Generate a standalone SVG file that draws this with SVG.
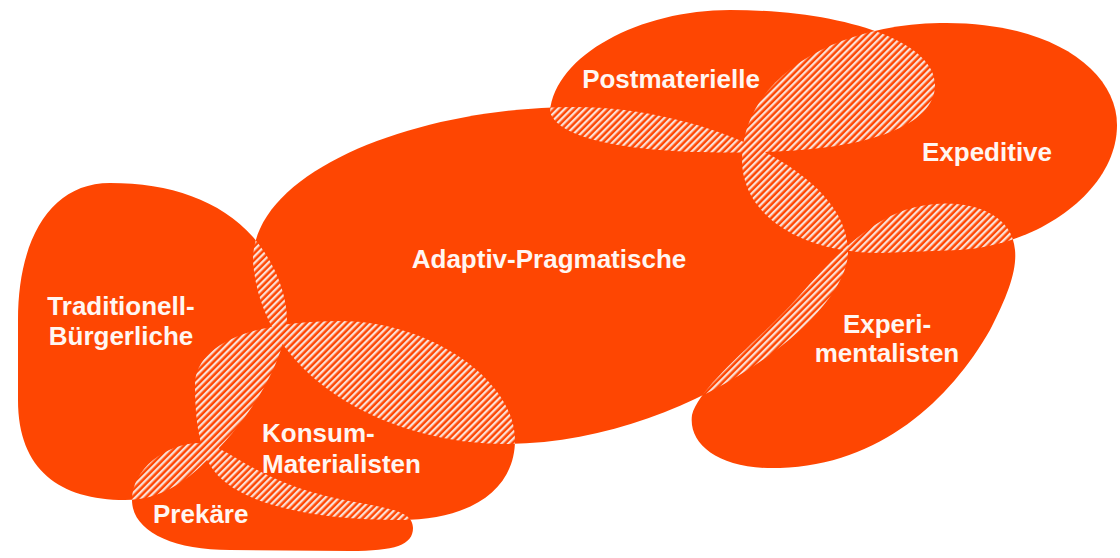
<svg xmlns="http://www.w3.org/2000/svg" width="1120" height="558" viewBox="0 0 1120 558">
<style>
.m{fill:#fe4602}
.h{fill:url(#hatch)}
text{font-family:"Liberation Sans",Arial,sans-serif;font-weight:bold;font-size:26px;fill:#fff6f2}
</style>
<defs>
<pattern id="hatch" patternUnits="userSpaceOnUse" width="4.8" height="4.8" patternTransform="rotate(45)">
<rect width="4.8" height="4.8" fill="#fe4602"/>
<rect width="2.3" height="4.8" fill="#fbe0d6"/>
</pattern>
<path id="sA" d="M253,262 C251,170 420,107 575,107 C700,107 848,170 848,252 C848,320 680,444 505,444 C390,444 262,380 253,262 Z"/>
<path id="sT" d="M110,183 C170,183 220,200 253,237 C280,268 292,310 285,335 C275,380 240,430 205,462 C185,482 160,500 125,500 C60,500 18,470 18,400 L18,320 C18,240 50,183 110,183 Z"/>
<path id="sK" d="M195,385 C195,345 250,321 340,321 C430,321 515,380 515,440 C515,490 470,520 400,520 C300,520 230,500 210,465 C198,445 195,415 195,385 Z"/>
<path id="sP" d="M132,500 C132,470 165,443 200,443 C225,443 250,478 330,497 C380,508 413,508 413,528 C413,545 395,551 350,551 L230,550 C170,550 132,530 132,500 Z"/>
<path id="sPo" d="M550,112 C555,55 640,10 730,10 C840,10 935,40 935,85 C935,125 870,150 760,152 C660,155 560,145 550,112 Z"/>
<path id="sE" d="M742,160 C742,80 830,25 940,23 C1050,21 1117,70 1117,125 C1117,190 1040,245 960,250 L880,253 C800,253 742,215 742,160 Z"/>
<path id="sX" d="M1015,250 C1012,205 950,195 905,210 C870,222 840,250 800,295 C760,340 700,385 692,415 C688,445 720,470 780,468 C880,465 950,400 990,330 C1008,295 1017,270 1015,250 Z"/>
<clipPath id="cA"><use href="#sA"/></clipPath>
<clipPath id="cT"><use href="#sT"/></clipPath>
<clipPath id="cK"><use href="#sK"/></clipPath>
<clipPath id="cP"><use href="#sP"/></clipPath>
<clipPath id="cPo"><use href="#sPo"/></clipPath>
<clipPath id="cE"><use href="#sE"/></clipPath>
</defs>
<rect width="1120" height="558" fill="#ffffff"/>
<g id="adaptiv-pragmatische">
<use href="#sA" class="m"/>
<text x="549" y="268" text-anchor="middle">Adaptiv-Pragmatische</text>
</g>
<g id="traditionell-buergerliche">
<use href="#sT" class="m"/>
<text x="121" y="315" text-anchor="middle">Traditionell-</text>
<text x="121" y="345" text-anchor="middle">Bürgerliche</text>
</g>
<g id="konsum-materialisten">
<use href="#sK" class="m"/>
<text x="262" y="442">Konsum-</text>
<text x="262" y="473">Materialisten</text>
</g>
<g id="prekaere">
<use href="#sP" class="m"/>
<text x="153" y="523">Prekäre</text>
</g>
<g id="postmaterielle">
<use href="#sPo" class="m"/>
<text x="671" y="88" text-anchor="middle">Postmaterielle</text>
</g>
<g id="expeditive">
<use href="#sE" class="m"/>
<text x="987" y="161" text-anchor="middle">Expeditive</text>
</g>
<g id="experimentalisten">
<use href="#sX" class="m"/>
<text x="887" y="333" text-anchor="middle">Experi-</text>
<text x="887" y="362" text-anchor="middle">mentalisten</text>
</g>
<g id="overlaps">
<use href="#sT" class="h" clip-path="url(#cA)"/>
<use href="#sK" class="h" clip-path="url(#cA)"/>
<use href="#sK" class="h" clip-path="url(#cT)"/>
<use href="#sP" class="h" clip-path="url(#cT)"/>
<use href="#sP" class="h" clip-path="url(#cK)"/>
<use href="#sPo" class="h" clip-path="url(#cA)"/>
<use href="#sE" class="h" clip-path="url(#cPo)"/>
<use href="#sE" class="h" clip-path="url(#cA)"/>
<use href="#sX" class="h" clip-path="url(#cE)"/>
<use href="#sX" class="h" clip-path="url(#cA)"/>
</g>
</svg>
